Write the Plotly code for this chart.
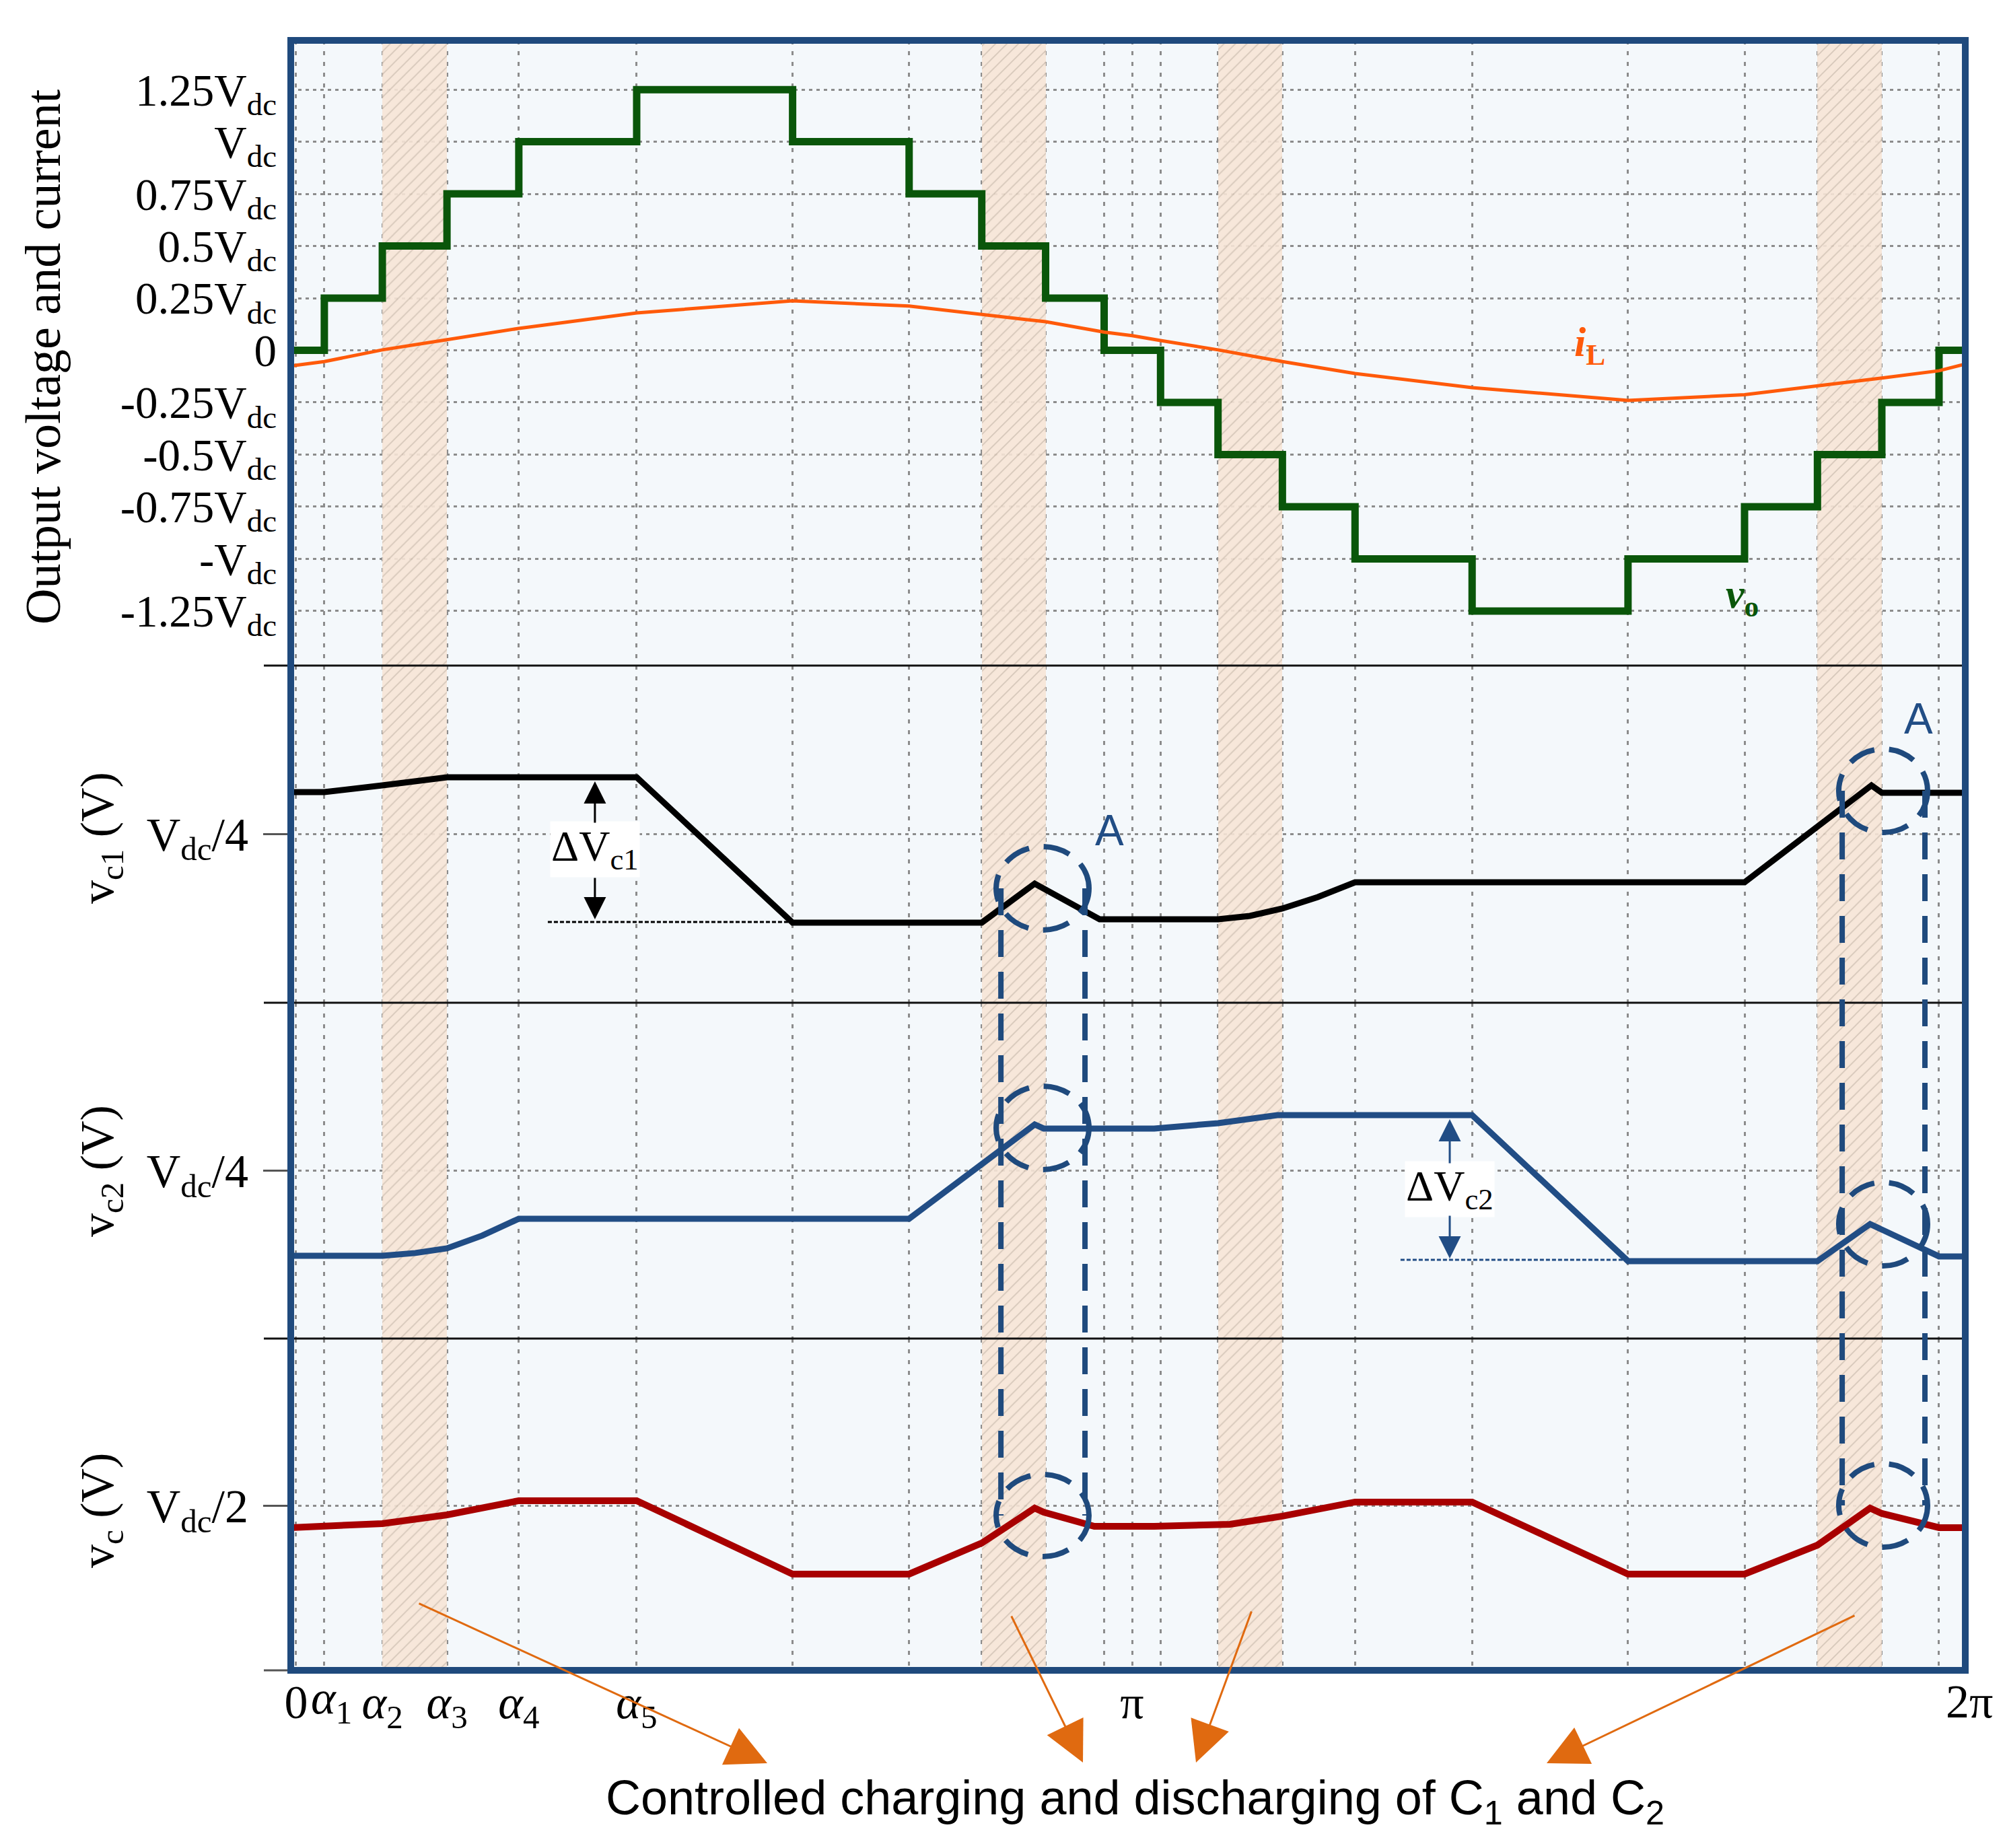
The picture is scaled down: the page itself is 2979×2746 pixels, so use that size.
import plotly.graph_objects as go
from plotly.subplots import make_subplots

# ---------------- data (angles in rad, voltages in per-unit of Vdc) ----------------
X_START, X_END = -0.0202, 6.2737

# switching angles of the staircase output voltage
vo_step_angles = [0.106, 0.324, 0.567, 0.837, 1.280, 1.866, 2.304, 2.577, 2.817, 3.037,
                  3.249, 3.465, 3.707, 3.980, 4.420, 5.006, 5.444, 5.718, 5.960, 6.175]
vo_levels = [0.25, 0.5, 0.75, 1.0, 1.25, 1.0, 0.75, 0.5, 0.25, 0.0,
             -0.25, -0.5, -0.75, -1.0, -1.25, -1.0, -0.75, -0.5, -0.25, 0.0]

iL_x = [-0.02, 0.106, 0.324, 0.567, 0.837, 1.280, 1.866, 2.304, 2.577, 2.817, 3.037, 3.142,
        3.249, 3.465, 3.707, 3.980, 4.420, 5.006, 5.444, 5.718, 5.960, 6.175, 6.274]
iL_y = [-0.075, -0.054, 0.002, 0.050, 0.105, 0.179, 0.237, 0.212, 0.173, 0.137, 0.087, 0.070,
        0.047, 0.002, -0.054, -0.111, -0.179, -0.240, -0.213, -0.172, -0.133, -0.098, -0.066]

vc1_x = [-0.02, 0.106, 0.324, 0.448, 0.567, 1.280, 1.866, 2.577, 2.776, 3.020, 3.465, 3.585,
         3.707, 3.840, 3.980, 5.444, 5.921, 5.960, 6.274]
vc1_y = [0.2624, 0.2624, 0.2644, 0.2654, 0.2668, 0.2668, 0.2236, 0.2236, 0.2352, 0.2246, 0.2246,
         0.2256, 0.2278, 0.2312, 0.2356, 0.2356, 0.2644, 0.2622, 0.2622]

vc2_x = [-0.02, 0.324, 0.448, 0.567, 0.700, 0.837, 2.304, 2.776, 2.810, 3.225, 3.465, 3.688,
         4.420, 5.006, 5.718, 5.916, 6.175, 6.274]
vc2_y = [0.2248, 0.2248, 0.2256, 0.2270, 0.2308, 0.2358, 0.2358, 0.2638, 0.2626, 0.2626, 0.2642,
         0.2666, 0.2666, 0.2232, 0.2232, 0.2342, 0.2246, 0.2246]

vc_x = [-0.02, 0.106, 0.324, 0.567, 0.837, 1.280, 1.866, 2.304, 2.577, 2.776, 2.810, 3.000,
        3.225, 3.510, 3.707, 3.980, 4.420, 5.006, 5.444, 5.718, 5.916, 5.960, 6.175, 6.274]
vc_y = [0.4936, 0.4940, 0.4948, 0.4974, 0.5016, 0.5016, 0.4798, 0.4798, 0.4890, 0.4994, 0.4982,
        0.4940, 0.4940, 0.4946, 0.4970, 0.5012, 0.5012, 0.4798, 0.4798, 0.4884, 0.4994, 0.4978,
        0.4936, 0.4936]

# controlled charging / discharging intervals
band_start = [0.324, 2.577, 3.465, 5.718]
band_end = [0.567, 2.817, 3.707, 5.960]

# labelled x ticks and the remaining (unlabelled) vertical grid positions
x_tick_vals = [0.0, 0.324, 0.567, 0.837, 1.280, 3.142]
x_tick_text = ["0", "<i>α</i><sub>2</sub>", "<i>α</i><sub>3</sub>",
               "<i>α</i><sub>4</sub>", "<i>α</i><sub>5</sub>", "π"]
x_grid_extra = [0.106, 1.866, 2.304, 2.577, 2.817, 3.037, 3.249, 3.465, 3.707, 3.980, 4.420,
                5.006, 5.444, 5.718, 5.960, 6.175]

vo_ticks = [1.25, 1.0, 0.75, 0.5, 0.25, 0.0, -0.25, -0.5, -0.75, -1.0, -1.25]
vo_tick_text = ["1.25V<sub>dc</sub>", "V<sub>dc</sub>", "0.75V<sub>dc</sub>", "0.5V<sub>dc</sub>",
                "0.25V<sub>dc</sub>", "0", "-0.25V<sub>dc</sub>", "-0.5V<sub>dc</sub>",
                "-0.75V<sub>dc</sub>", "-V<sub>dc</sub>", "-1.25V<sub>dc</sub>"]

Y_RANGES = [(-1.512, 1.486), (0.1998, 0.3000), (0.2002, 0.3000), (0.4512, 0.5498)]
DOMAINS = [(0.6164, 1.0), (0.4096, 0.6164), (0.2036, 0.4096), (0.0, 0.2036)]

# ---------------- styling ----------------
SERIF = "Liberation Serif"
SANS = "Liberation Sans"
GREEN = "#0a560a"
ORANGE = "#ff5a0a"
NAVY = "#1f4a7d"
BLUE = "#214d85"
RED = "#a80000"
ARROW_OR = "#e06a10"
GRID = "#8c8c8c"

# page body has an 8px margin: size the figure so the plot lands where the reference has it
PAGE_OFF = 8
FIG_W, FIG_H = 2979 - 2 * PAGE_OFF, 2746 - 2 * PAGE_OFF
PLOT_L, PLOT_R, PLOT_T, PLOT_B = 432 - PAGE_OFF, 2920 - PAGE_OFF, 60 - PAGE_OFF, 2482 - PAGE_OFF
PW, PH = PLOT_R - PLOT_L, PLOT_B - PLOT_T


def px_to_paper(px, py):
    return (px - PAGE_OFF - PLOT_L) / PW, (PLOT_B - (py - PAGE_OFF)) / PH


fig = make_subplots(rows=4, cols=1, shared_xaxes=True, vertical_spacing=0)

# hatched bands in every panel
for r in range(1, 5):
    lo, hi = Y_RANGES[r - 1]
    fig.add_trace(go.Bar(
        x=[(a + b) / 2 for a, b in zip(band_start, band_end)],
        y=[hi - lo] * len(band_start), base=[lo] * len(band_start),
        width=[b - a for a, b in zip(band_start, band_end)],
        marker=dict(color="#f7e5d6", line=dict(width=0),
                    pattern=dict(shape="/", fgcolor="#ad9d8e", bgcolor="#f7e5d6",
                                 size=12, solidity=0.14)),
        opacity=0.9, showlegend=False, hoverinfo="skip"), row=r, col=1)

# output voltage (staircase)
vo_x = [X_START] + vo_step_angles + [X_END]
vo_y = [0.0] + vo_levels + [0.0]
fig.add_trace(go.Scatter(x=vo_x, y=vo_y, mode="lines", line=dict(color=GREEN, width=11, shape="hv"),
                         showlegend=False), row=1, col=1)
fig.add_trace(go.Scatter(x=iL_x, y=iL_y, mode="lines", line=dict(color=ORANGE, width=5),
                         showlegend=False), row=1, col=1)
fig.add_trace(go.Scatter(x=vc1_x, y=vc1_y, mode="lines", line=dict(color="black", width=9),
                         showlegend=False), row=2, col=1)
fig.add_trace(go.Scatter(x=vc2_x, y=vc2_y, mode="lines", line=dict(color=BLUE, width=9),
                         showlegend=False), row=3, col=1)
fig.add_trace(go.Scatter(x=vc_x, y=vc_y, mode="lines", line=dict(color=RED, width=10),
                         showlegend=False), row=4, col=1)

# axes
for r in range(1, 5):
    fig.update_xaxes(range=[X_START, X_END], tickvals=x_tick_vals, ticktext=x_tick_text,
                     tickangle=0,
                     showgrid=True, gridcolor=GRID, gridwidth=3, griddash="6px,10px",
                     minor=dict(tickvals=x_grid_extra, showgrid=True, gridcolor=GRID, gridwidth=3,
                                griddash="6px,10px", ticks=""),
                     zeroline=False, showline=False, ticks="",
                     showticklabels=(r == 4),
                     tickfont=dict(family=SERIF, size=70, color="black"),
                     row=r, col=1)
    fig.update_yaxes(range=list(Y_RANGES[r - 1]), domain=list(DOMAINS[r - 1]),
                     zeroline=False, showline=False, showgrid=True,
                     gridcolor=GRID, gridwidth=3, griddash="5px,6px",
                     tickfont=dict(family=SERIF, size=70, color="black"),
                     row=r, col=1)

fig.update_yaxes(tickvals=vo_ticks, ticktext=vo_tick_text, ticks="", ticklabelstandoff=20,
                 tickfont=dict(family=SERIF, size=67, color="black"), row=1, col=1)
for r, tv, tt in [(2, 0.25, "V<sub>dc</sub>/4"), (3, 0.25, "V<sub>dc</sub>/4"), (4, 0.5, "V<sub>dc</sub>/2")]:
    fig.update_yaxes(tickvals=[tv], ticktext=[tt], ticks="outside", ticklen=40, tickwidth=3,
                     tickcolor="#555555", ticklabelstandoff=8, row=r, col=1)

shapes = []
# panel separators and bottom axis line
for yp in [DOMAINS[0][0], DOMAINS[1][0], DOMAINS[2][0], 0.0]:
    shapes.append(dict(type="line", xref="paper", yref="paper", x0=-40 / PW, x1=1.0, y0=yp, y1=yp,
                       line=dict(color="#111111" if yp > 0 else "#555555", width=3), layer="above"))
# outer frame
shapes.append(dict(type="rect", xref="paper", yref="paper", x0=0, x1=1, y0=0, y1=1,
                   line=dict(color=NAVY, width=10), layer="above"))

# ΔV helper dashed lines
shapes.append(dict(type="line", xref="x2", yref="y2", x0=0.946, x1=1.849, y0=0.2238, y1=0.2238,
                   line=dict(color="black", width=3, dash="6px,3px")))
shapes.append(dict(type="line", xref="x3", yref="y3", x0=4.151, x1=4.996, y0=0.2236, y1=0.2236,
                   line=dict(color=BLUE, width=3, dash="6px,3px")))

# dashed "A" ellipses and connecting lines
ELL = dict(color="#1f4a7d", width=8, dash="40px,22px")
ellipses = [
    ("x2", "y2", 2.631, 2.980, 0.2214, 0.2462),
    ("x3", "y3", 2.631, 2.980, 0.2504, 0.2752),
    ("x4", "y4", 2.631, 2.980, 0.4850, 0.5094),
    ("x2", "y2", 5.798, 6.132, 0.2504, 0.2752),
    ("x3", "y3", 5.798, 6.132, 0.2218, 0.2466),
    ("x4", "y4", 5.798, 6.132, 0.4878, 0.5126),
]
for xr, yr, x0, x1, y0, y1 in ellipses:
    shapes.append(dict(type="circle", xref=xr, yref=yr, x0=x0, x1=x1, y0=y0, y1=y1, line=ELL))
for xv, pya, pyb in [(2.649, 1320, 2252), (2.965, 1320, 2252),
                     (5.811, 1175, 2237), (6.122, 1175, 2237)]:
    shapes.append(dict(type="line", xref="x", yref="paper", x0=xv, x1=xv,
                       y0=px_to_paper(0, pya)[1], y1=px_to_paper(0, pyb)[1], line=ELL))

fig.update_layout(shapes=shapes)

ann = []
# y-axis titles
tx, ty = px_to_paper(64, 530)
ann.append(dict(text="Output voltage and current", xref="paper", yref="paper", x=tx, y=ty,
                xanchor="center", yanchor="middle",
                textangle=-90, showarrow=False, font=dict(family=SERIF, size=74, color="black")))
for txt, py in [("v<sub>c1</sub> (V)", 1245), ("v<sub>c2</sub> (V)", 1740), ("v<sub>c</sub> (V)", 2245)]:
    tx, ty = px_to_paper(150, py)
    ann.append(dict(text=txt, xref="paper", yref="paper", x=tx, y=ty, textangle=-90,
                    xanchor="center", yanchor="middle",
                    showarrow=False, font=dict(family=SERIF, size=70, color="black")))
# α1 and 2π labels (placed beside the crowded start / past the frame end)
tx, ty = px_to_paper(492, 2528)
ann.append(dict(text="<i>α</i><sub>1</sub>", xref="paper", yref="paper", x=tx, y=ty,
                xanchor="center", yanchor="middle", showarrow=False,
                font=dict(family=SERIF, size=70, color="black")))
tx, ty = px_to_paper(2926, 2528)
ann.append(dict(text="2π", xref="paper", yref="paper", x=tx, y=ty, xanchor="center", yanchor="middle",
                showarrow=False, font=dict(family=SERIF, size=70, color="black")))
# trace labels
ann.append(dict(text="<b><i>i</i><sub>L</sub></b>", xref="x", yref="y", x=4.862, y=0.0245,
                showarrow=False, font=dict(family=SERIF, size=62, color=ORANGE)))
ann.append(dict(text="<b><i>v</i><sub>o</sub></b>", xref="x", yref="y", x=5.434, y=-1.182,
                showarrow=False, font=dict(family=SERIF, size=62, color=GREEN)))
# A labels
ann.append(dict(text="A", xref="x2", yref="y2", x=3.058, y=0.251, showarrow=False,
                font=dict(family=SANS, size=64, color=BLUE)))
ann.append(dict(text="A", xref="x2", yref="y2", x=6.099, y=0.2842, showarrow=False,
                font=dict(family=SANS, size=64, color=BLUE)))
# ΔV labels with arrows
ann.append(dict(text="ΔV<sub>c1</sub>", xref="x2", yref="y2", x=1.123, y=0.2455, showarrow=False,
                bgcolor="white", font=dict(family=SERIF, size=64, color="black")))
for hy, ty_ in [(0.2656, 0.2530), (0.2246, 0.2372)]:
    ann.append(dict(text="", xref="x2", yref="y2", x=1.123, y=hy, axref="x2", ayref="y2",
                    ax=1.123, ay=ty_, showarrow=True, arrowhead=2, arrowsize=2.2, arrowwidth=3,
                    arrowcolor="black", standoff=0))
ann.append(dict(text="ΔV<sub>c2</sub>", xref="x3", yref="y3", x=4.336, y=0.2446, showarrow=False,
                bgcolor="white", font=dict(family=SERIF, size=64, color="black")))
for hy, ty_ in [(0.2654, 0.2520), (0.2240, 0.2370)]:
    ann.append(dict(text="", xref="x3", yref="y3", x=4.336, y=hy, axref="x3", ayref="y3",
                    ax=4.336, ay=ty_, showarrow=True, arrowhead=2, arrowsize=2.2, arrowwidth=3,
                    arrowcolor=BLUE, standoff=0))
# bottom caption and orange arrows
tx, ty = px_to_paper(1686, 2676)
ann.append(dict(text="Controlled charging and discharging of C<sub>1</sub> and C<sub>2</sub>",
                xref="paper", yref="paper", x=tx, y=ty, xanchor="center", yanchor="middle",
                showarrow=False, font=dict(family=SANS, size=72, color="black")))
for hx, hy, ax, ay in [(1140, 2620, -519, -238), (1609, 2619, -107, -219),
                       (1777, 2619, 83, -226), (2298, 2620, 459, -220)]:
    tx, ty = px_to_paper(hx, hy)
    ann.append(dict(text="", xref="paper", yref="paper", x=tx, y=ty,
                    ax=ax, ay=ay, showarrow=True, arrowhead=2, arrowsize=4, arrowwidth=3,
                    arrowcolor=ARROW_OR, standoff=0))

fig.update_layout(
    annotations=ann,
    width=FIG_W, height=FIG_H,
    margin=dict(l=PLOT_L, r=FIG_W - PLOT_R, t=PLOT_T, b=FIG_H - PLOT_B),
    paper_bgcolor="white", plot_bgcolor="#f4f8fb",
    barmode="overlay", bargap=0, showlegend=False,
    font=dict(family=SERIF, color="black"),
)

fig.write_html("out.html")
